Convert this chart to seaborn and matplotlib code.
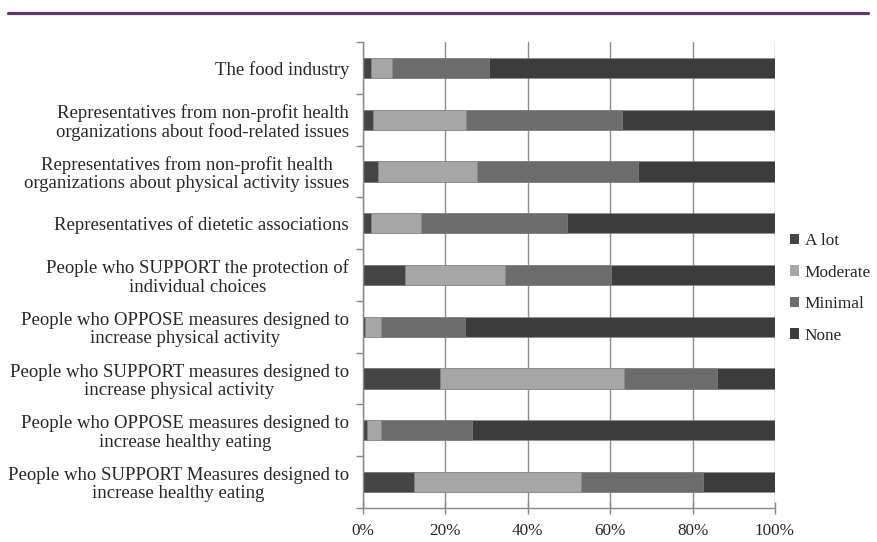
import matplotlib
matplotlib.use("Agg")
import matplotlib.pyplot as plt
import seaborn as sns
import pandas as pd
import numpy as np
from matplotlib.patches import Patch
from matplotlib.lines import Line2D

categories = [
    "The food industry",
    "Representatives from non-profit health\norganizations about food-related issues",
    "Representatives from non-profit health\norganizations about physical activity issues",
    "Representatives of dietetic associations",
    "People who SUPPORT the protection of\nindividual choices",
    "People who OPPOSE measures designed to\nincrease physical activity",
    "People who SUPPORT measures designed to\nincrease physical activity",
    "People who OPPOSE measures designed to\nincrease healthy eating",
    "People who SUPPORT Measures designed to\nincrease healthy eating",
]
a_lot    = [2.0, 2.5, 3.6, 1.9, 10.2, 0.6, 18.6, 0.9, 12.3]
moderate = [5.0, 22.5, 24.1, 12.3, 24.3, 3.7, 44.8, 3.4, 40.5]
minimal  = [23.7, 37.9, 39.1, 35.3, 25.7, 20.4, 22.6, 22.1, 29.8]
none     = [69.3, 37.1, 33.2, 50.5, 39.8, 75.3, 14.0, 73.6, 17.4]
series_names = ["A lot", "Moderate", "Minimal", "None"]
xticks = [0, 20, 40, 60, 80, 100]

colors = {"A lot": "#454545", "Moderate": "#a6a6a6", "Minimal": "#6c6c6c", "None": "#3c3c3c"}

sns.set_style("white")
plt.rcParams["font.family"] = ["Liberation Serif", "DejaVu Serif"]

df = pd.DataFrame({"cat": categories, "A lot": a_lot, "Moderate": moderate,
                   "Minimal": minimal, "None": none})
cum = df[series_names].cumsum(axis=1)

fig = plt.figure(figsize=(8.78, 5.42), dpi=100)
ax = fig.add_axes([0.4134, 0.0627, 0.8827 - 0.4134, 0.9225 - 0.0627])

for name in reversed(series_names):
    sns.barplot(x=cum[name], y=df["cat"], orient="h", color=colors[name],
                width=0.39, ax=ax, saturation=1, edgecolor="#8a8a8a", linewidth=0.4,
                order=categories)

ax.set_xlim(0, 100)
ax.set_ylim(8.5, -0.5)
ax.set_xticks(xticks)
ax.set_xticklabels([f"{t}%" for t in xticks], fontsize=12.3)
ax.set_xlabel("")
ax.set_ylabel("")
ax.set_yticks(range(len(categories)))
ax.set_yticklabels(categories, fontsize=13.5, multialignment="center", linespacing=1.1)
ax.set_yticks(np.arange(-0.5, len(categories), 1), minor=True)
ax.tick_params(axis="y", which="major", length=0, pad=10)
ax.tick_params(axis="y", which="minor", length=5, color="#888888", width=1, direction="out", left=True)
ax.tick_params(axis="x", which="major", length=8, direction="inout", color="#888888", width=1, bottom=True, pad=7)

ax.grid(axis="x", color="#8c8c8c", linewidth=1)
ax.set_axisbelow(True)
for s in ["top", "right"]:
    ax.spines[s].set_visible(False)
for s in ["left", "bottom"]:
    ax.spines[s].set_color("#888888")
    ax.spines[s].set_linewidth(1)

handles = [Patch(facecolor=colors[n], edgecolor="none") for n in series_names]
fig.legend(handles, series_names, loc="upper left", bbox_to_anchor=(790 / 878, 1 - 233 / 542),
           frameon=False, fontsize=12.4, handlelength=0.55, handleheight=0.55,
           handletextpad=0.3, labelspacing=0.9, borderpad=0, borderaxespad=0)

fig.add_artist(Line2D([8 / 878, 868 / 878], [1 - 12.5 / 542, 1 - 12.5 / 542],
                      color="#5e3a6a", linewidth=2.3, transform=fig.transFigure))

fig.savefig("out.png", dpi=100)
